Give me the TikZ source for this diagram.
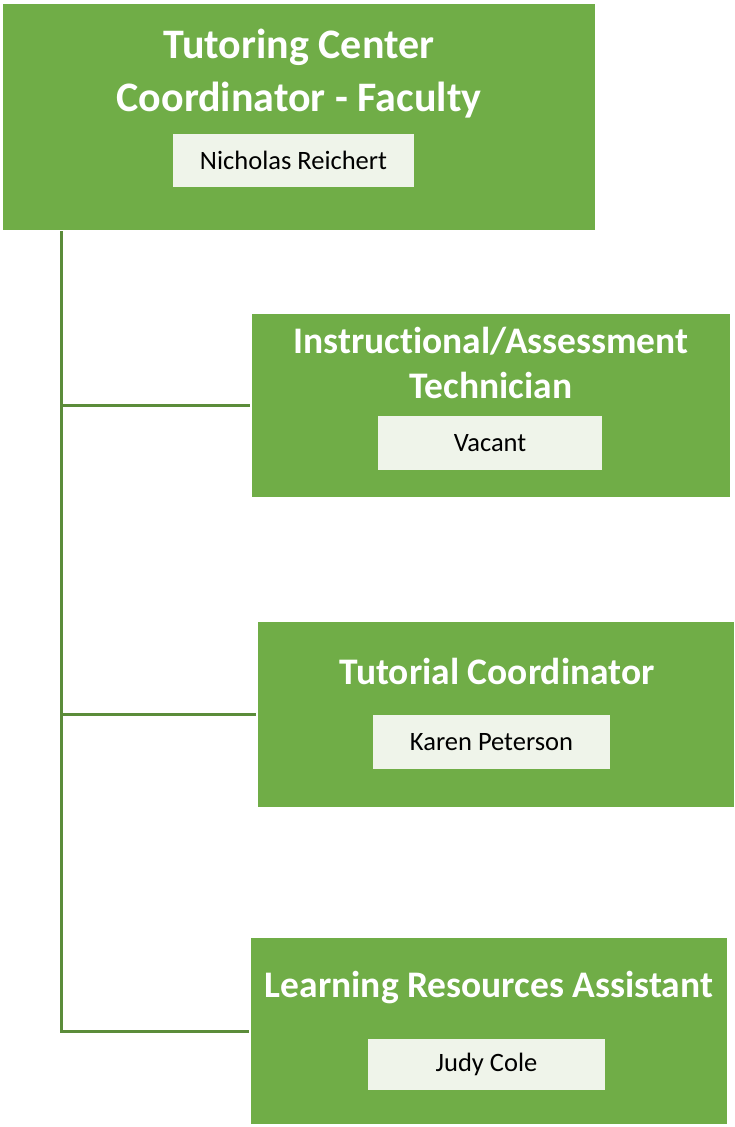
\documentclass[tikz,border=0pt]{standalone}
\usepackage{fontspec}
\setmainfont{Carlito}[Ligatures=CommonOff]
\definecolor{boxgreen}{HTML}{70AD47}
\definecolor{linegreen}{HTML}{5B8C3A}
\definecolor{namefill}{HTML}{EFF4EA}

\begin{document}
\begin{tikzpicture}[x=1pt, y=-1pt,
  rolebox/.style={fill=boxgreen, inner sep=0pt},
  roletitle/.style={text=white, align=center, inner sep=0pt,
    font=\fontsize{37.5}{45}\selectfont\bfseries},
  namebox/.style={fill=namefill, inner sep=0pt, font=\fontsize{26.5}{30}\selectfont},
  link/.style={draw=linegreen, line width=3pt}]
  \useasboundingbox (0,0) rectangle (734,1127);

  % the coordinator on top
  \node[rolebox, minimum width=592pt, minimum height=226pt] (coord) at (299,117) {};
  \node[roletitle, font=\fontsize{42}{53}\selectfont\bfseries] (coordtitle) at (299,74)
       {Tutoring Center\\Coordinator - Faculty};
  \node[namebox, minimum width=241pt, minimum height=53pt] (coordname) at (293.5,160.5)
       {Nicholas Reichert};

  % technician
  \node[rolebox, minimum width=478pt, minimum height=183pt] (tech) at (491,405.5) {};
  \node[roletitle] (techtitle) at (491,363) {Instructional/Assessment\\Technician};
  \node[namebox, minimum width=224pt, minimum height=54pt] (techname) at (490,443) {Vacant};

  % tutorial coordinator
  \node[rolebox, minimum width=476pt, minimum height=185pt] (tutor) at (496,714.5) {};
  \node[roletitle] (tutortitle) at (497,671) {Tutorial Coordinator};
  \node[namebox, minimum width=237pt, minimum height=54pt] (tutorname) at (491.5,742)
       {Karen Peterson};

  % assistant
  \node[rolebox, minimum width=476pt, minimum height=186pt] (assist) at (489,1031) {};
  \node[roletitle] (assisttitle) at (489,988) {Learning Resources Assistant};
  \node[namebox, minimum width=237pt, minimum height=51pt] (assistname) at (486.5,1064.5)
       {Judy Cole};

  % connectors
  \coordinate (trunk) at (61,231);
  \draw[link] (trunk) |- ([xshift=-2pt]assist.west);
  \draw[link] (trunk |- tech.west) -- ([xshift=-2pt]tech.west);
  \draw[link] (trunk |- tutor.west) -- ([xshift=-2pt]tutor.west);
\end{tikzpicture}
\end{document}
